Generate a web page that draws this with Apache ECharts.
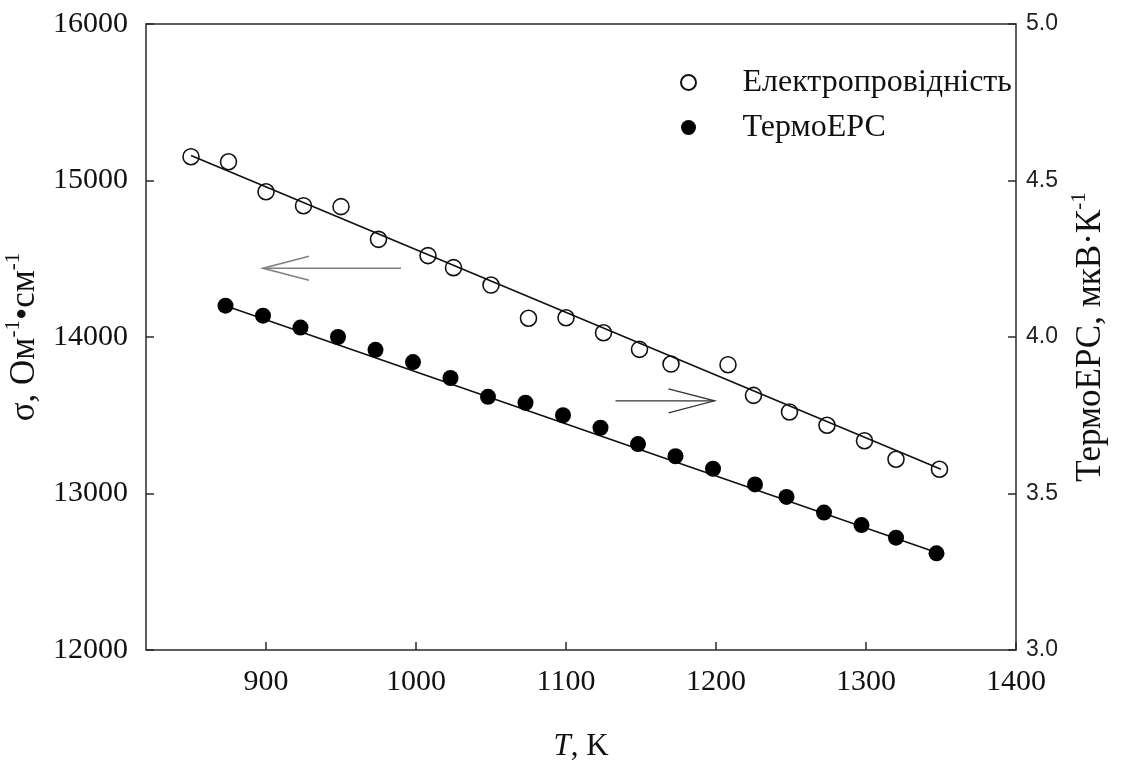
<!DOCTYPE html>
<html>
<head>
<meta charset="utf-8">
<script src="https://cdn.jsdelivr.net/npm/echarts@6/dist/echarts.min.js"></script>
<style>
  html, body { margin: 0; padding: 0; background: #fff; }
  #chart { width: 1123px; height: 767px; }
</style>
</head>
<body>
<div id="chart"></div>
<script>
// Electrical conductivity, Ом^-1·см^-1 (open circles, left axis)
const sigmaT = [850, 875, 900, 925, 950, 975, 1008, 1025, 1050, 1075, 1100, 1125, 1149, 1170, 1208, 1225, 1249, 1274, 1299, 1320, 1349];
const sigma = [15152, 15120, 14928, 14839, 14833, 14624, 14520, 14443, 14332, 14120, 14123, 14027, 13921, 13827, 13823, 13627, 13521, 13436, 13337, 13219, 13155];

// Thermo-EMF, мкВ·К^-1 (filled circles, right axis)
const seebeckT = [873, 898, 923, 948, 973, 998, 1023, 1048, 1073, 1098, 1123, 1148, 1173, 1198, 1226, 1247, 1272, 1297, 1320, 1347];
const seebeck = [4.100, 4.068, 4.030, 4.000, 3.959, 3.920, 3.869, 3.809, 3.790, 3.750, 3.710, 3.658, 3.619, 3.579, 3.529, 3.489, 3.439, 3.399, 3.359, 3.309];

// Straight-line fits (end points)
const sigmaFitT = [850, 1350];
const sigmaFit = [15160, 13155];
const seebeckFitT = [873, 1348];
const seebeckFit = [4.10, 3.31];

// Arrows pointing to the axis each series belongs to: [x from, y, x to]
const arrowSigma = [990, 14439, 898];
const arrowSeebeck = [1133, 3.796, 1199];

// Axis ticks
const tempTicks = [900, 1000, 1100, 1200, 1300, 1400];
const seriesNames = ['Електропровідність', 'ТермоЕРС'];

const serif = '"Liberation Serif", "Times New Roman", serif';
const sans = '"Liberation Sans", Arial, sans-serif';

const zip = (xs, ys) => xs.map((x, i) => [x, ys[i]]);

function arrowRenderer(color, width) {
  return function (params, api) {
    const p1 = api.coord([api.value(0), api.value(1)]);
    const p2 = api.coord([api.value(2), api.value(1)]);
    const dir = p2[0] > p1[0] ? -1 : 1;
    const headLen = 46, headHalf = 12;
    return {
      type: 'group',
      children: [
        { type: 'line', shape: { x1: p1[0], y1: p1[1], x2: p2[0], y2: p2[1] },
          style: { stroke: color, lineWidth: width } },
        { type: 'polyline',
          shape: { points: [[p2[0] + dir * headLen, p2[1] - headHalf], [p2[0], p2[1]], [p2[0] + dir * headLen, p2[1] + headHalf]] },
          style: { stroke: color, lineWidth: width, fill: null } }
      ]
    };
  };
}

const nameRich = {
  a: { fontFamily: serif, fontSize: 35, color: '#111', lineHeight: 44 },
  s: { fontFamily: serif, fontSize: 21, color: '#111', lineHeight: 21, verticalAlign: 'top' }
};

const chart = echarts.init(document.getElementById('chart'), null, { renderer: 'canvas' });

chart.setOption({
  animation: false,
  backgroundColor: '#fff',
  grid: {
    left: 146, right: 107, top: 24, bottom: 117,
    outerBoundsMode: 'none',
    containLabel: false,
    show: true, borderColor: '#2a2a2a', borderWidth: 1.5, backgroundColor: 'transparent'
  },
  legend: {
    orient: 'vertical',
    left: 675, top: 61,
    itemWidth: 98, itemHeight: 15, itemGap: 12,
    data: seriesNames.map(n => ({ name: n, icon: 'circle' })),
    textStyle: { fontFamily: serif, fontSize: 32, color: '#111', lineHeight: 33 },
    selectedMode: false
  },
  xAxis: {
    type: 'value',
    min: 820, max: 1400,
    name: '{i|T}, K',
    nameLocation: 'middle',
    nameGap: 81,
    nameTextStyle: {
      fontFamily: serif, fontSize: 31, color: '#111',
      rich: { i: { fontFamily: serif, fontSize: 31, fontStyle: 'italic', color: '#111' } }
    },
    axisLine: { show: false },
    axisTick: { inside: true, length: 8, customValues: tempTicks, lineStyle: { color: '#2a2a2a', width: 1.5 } },
    axisLabel: { customValues: tempTicks, margin: 17, fontFamily: serif, fontSize: 30, color: '#111', formatter: v => String(v) },
    splitLine: { show: false }
  },
  yAxis: [
    {
      type: 'value',
      position: 'left',
      min: 12000, max: 16000, interval: 1000,
      name: '{a|σ, Ом}{s|-1}{a|•см}{s|-1}',
      nameLocation: 'middle',
      nameRotate: 90,
      nameGap: 85,
      nameTextStyle: { rich: nameRich },
      axisLine: { show: false },
      axisTick: { inside: true, length: 8, lineStyle: { color: '#2a2a2a', width: 1.5 } },
      axisLabel: { margin: 18, fontFamily: serif, fontSize: 30, color: '#111', formatter: v => String(v) },
      splitLine: { show: false }
    },
    {
      type: 'value',
      position: 'right',
      min: 3, max: 5, interval: 0.5,
      name: '{a|ТермоЕРС, мкВ·К}{s|-1}',
      nameLocation: 'middle',
      nameRotate: 90,
      nameGap: 46,
      nameTextStyle: { rich: nameRich },
      axisLine: { show: false },
      axisTick: { inside: true, length: 8, lineStyle: { color: '#2a2a2a', width: 1.5 } },
      axisLabel: { margin: 10, fontFamily: sans, fontSize: 23, color: '#222', formatter: v => v.toFixed(1) },
      splitLine: { show: false }
    }
  ],
  series: [
    {
      name: 'σ fit', type: 'line', yAxisIndex: 0,
      data: zip(sigmaFitT, sigmaFit),
      symbol: 'none', lineStyle: { color: '#111', width: 1.6 }, z: 1
    },
    {
      name: 'S fit', type: 'line', yAxisIndex: 1,
      data: zip(seebeckFitT, seebeckFit),
      symbol: 'none', lineStyle: { color: '#111', width: 1.6 }, z: 1
    },
    {
      name: seriesNames[0], type: 'scatter', yAxisIndex: 0,
      data: zip(sigmaT, sigma),
      symbol: 'circle', symbolSize: 16,
      itemStyle: { color: 'rgba(255,255,255,0)', borderColor: '#111', borderWidth: 1.6, opacity: 1 },
      z: 3
    },
    {
      name: seriesNames[1], type: 'scatter', yAxisIndex: 1,
      data: zip(seebeckT, seebeck),
      symbol: 'circle', symbolSize: 16,
      itemStyle: { color: '#000', opacity: 1 },
      z: 3
    },
    {
      name: 'arrow σ', type: 'custom', yAxisIndex: 0,
      data: [arrowSigma],
      renderItem: arrowRenderer('#808080', 1.6),
      silent: true, z: 2
    },
    {
      name: 'arrow S', type: 'custom', yAxisIndex: 1,
      data: [arrowSeebeck],
      renderItem: arrowRenderer('#333', 1.3),
      silent: true, z: 2
    }
  ]
});
</script>
</body>
</html>
